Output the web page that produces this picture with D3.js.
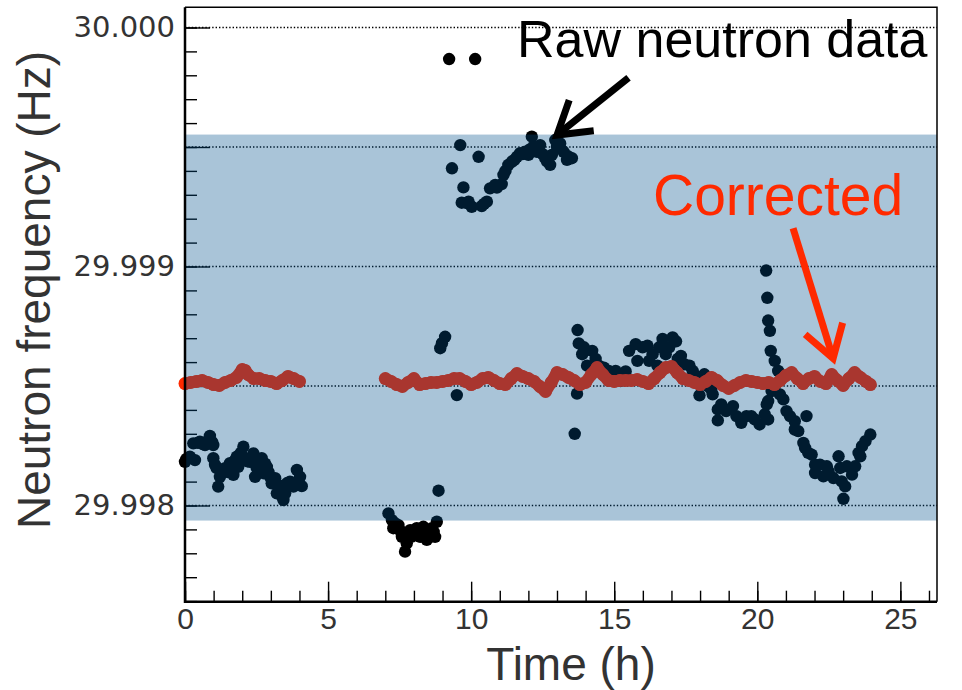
<!DOCTYPE html>
<html>
<head>
<meta charset="utf-8">
<script src="https://cdn.jsdelivr.net/npm/d3@7"></script>
<style>
  html, body { margin: 0; padding: 0; background: #fff; }
  svg { display: block; }
</style>
</head>
<body>
<div id="chart"></div>
<script>
// raw neutron data: time (h) and frequency (Hz)
var rawTime = [
  0.00, 0.05, 0.17, 0.29, 0.35, 0.45, 0.52, 0.62, 0.70, 0.80, 0.87, 0.95, 0.99, 0.99, 1.05, 1.11,
  1.16, 1.22, 1.30, 1.40, 1.50, 1.57, 1.63, 1.69, 1.75, 1.81, 1.86, 1.95, 2.04, 2.10, 2.18, 2.27,
  2.35, 2.39, 2.45, 2.50, 2.56, 2.62, 2.68, 2.74, 2.80, 2.86, 2.92, 2.97, 3.03, 3.09, 3.15, 3.21,
  3.27, 3.32, 3.38, 3.44, 3.50, 3.56, 3.62, 3.67, 3.73, 3.79, 3.85, 3.91, 3.97, 4.02, 4.08,
  7.11, 7.23, 7.28, 7.35, 7.46, 7.52, 7.58, 7.69, 7.75, 7.80, 7.87, 7.93, 7.98, 8.05, 8.10, 8.16,
  8.22, 8.28, 8.33, 8.40, 8.45, 8.51, 8.57, 8.63, 8.69, 8.74, 8.80, 8.86, 8.92, 8.98, 9.09, 9.23,
  9.50, 10.14,
  9.33, 9.62, 9.67, 9.73, 9.85, 9.91, 10.02, 10.26, 10.37, 10.45, 10.55, 10.66, 10.84, 10.90, 11.07, 11.13,
  11.20, 11.30, 11.42, 11.50, 11.60, 11.71, 11.80, 11.89, 12.00, 12.05, 12.12, 12.18, 12.30, 12.41, 12.50, 12.59,
  12.65, 12.76, 12.82, 12.94, 13.00, 13.11, 13.23, 13.35, 13.40, 13.52,
  13.62, 13.70, 13.72, 13.76, 13.88, 13.94, 14.05, 14.23, 14.35, 14.46, 14.64, 14.81, 15.05, 15.22, 15.40, 15.52,
  15.75, 15.81, 15.99, 16.16, 16.22, 16.34, 16.51, 16.57, 16.69, 16.80, 16.92, 17.04, 17.16, 17.22, 17.33, 17.45,
  17.63, 17.74, 17.86, 17.98, 17.98, 18.15, 18.27, 18.39, 18.44, 18.62, 18.62, 18.74, 18.91, 19.15, 19.27, 19.44,
  19.62, 19.79, 19.91, 20.08, 20.26, 20.31, 20.33, 20.35, 20.38, 20.38, 20.38, 20.44, 20.47, 20.50, 20.61, 20.61,
  20.73, 20.79, 20.91, 21.02, 21.14, 21.31, 21.31, 21.43, 21.61, 21.67, 21.72, 21.78, 21.90, 22.02, 22.02, 22.19,
  22.31, 22.43, 22.49, 22.66, 22.84, 22.90, 22.95, 23.01, 23.07, 23.13, 23.31, 23.42, 23.54, 23.60, 23.66, 23.78,
  23.95
];
var rawFreq = [
  29.998183, 29.998195, 29.998204, 29.998260, 29.998190, 29.998262, 29.998267, 29.998257, 29.998253, 29.998270, 29.998291, 29.998265, 29.998253, 29.998198, 29.998170, 29.998156,
  29.998079, 29.998120, 29.998150, 29.998156, 29.998140, 29.998177, 29.998162, 29.998128, 29.998190, 29.998204, 29.998162, 29.998220, 29.998246, 29.998198, 29.998185, 29.998183,
  29.998200, 29.998218, 29.998120, 29.998160, 29.998169, 29.998150, 29.998198, 29.998135, 29.998175, 29.998162, 29.998140, 29.998120, 29.998093, 29.998110, 29.998114, 29.998051,
  29.998085, 29.998072, 29.998040, 29.998023, 29.998051, 29.998093, 29.998080, 29.998100, 29.998095, 29.998079, 29.998090, 29.998149, 29.998100, 29.998120, 29.998081,
  29.997967, 29.997939, 29.997905, 29.997925, 29.997918, 29.997895, 29.997869, 29.997807, 29.997842, 29.997880, 29.997897, 29.997870, 29.997884, 29.997900, 29.997905, 29.997880,
  29.997869, 29.997895, 29.997911, 29.997880, 29.997856, 29.997884, 29.997870, 29.997905, 29.997890, 29.997869, 29.997932, 29.998062, 29.998658, 29.998679, 29.998706, 29.999868,
  29.998462, 29.999868,
  29.999411, 29.999508, 29.999267, 29.999331, 29.999265, 29.999271, 29.999250, 29.999459, 29.999253, 29.999262, 29.999271, 29.999327, 29.999341, 29.999330, 29.999345, 29.999383,
  29.999400, 29.999425, 29.999438, 29.999445, 29.999459, 29.999474, 29.999470, 29.999480, 29.999467, 29.999490, 29.999543, 29.999501, 29.999480, 29.999508, 29.999470, 29.999453,
  29.999440, 29.999425, 29.999467, 29.999529, 29.999500, 29.999515, 29.999480, 29.999446, 29.999460, 29.999453,
  29.998300, 29.998468, 29.998734, 29.998678, 29.998633, 29.998662, 29.998585, 29.998647, 29.998613, 29.998585, 29.998577, 29.998563, 29.998563, 29.998521, 29.998561, 29.998647,
  29.998675, 29.998605, 29.998662, 29.998669, 29.998605, 29.998633, 29.998585, 29.998662, 29.998697, 29.998633, 29.998662, 29.998703, 29.998687, 29.998613, 29.998626, 29.998591,
  29.998585, 29.998563, 29.998542, 29.998514, 29.998461, 29.998549, 29.998500, 29.998486, 29.998465, 29.998402, 29.998356, 29.998423, 29.998395, 29.998416, 29.998374, 29.998346,
  29.998374, 29.998374, 29.998360, 29.998339, 29.998381, 29.998983, 29.998423, 29.998869, 29.998774, 29.998437, 29.998360, 29.998731, 29.998647, 29.998479, 29.998605, 29.998500,
  29.998563, 29.998465, 29.998444, 29.998395, 29.998374, 29.998353, 29.998318, 29.998311, 29.998262, 29.998241, 29.998374, 29.998220, 29.998213, 29.998171, 29.998136, 29.998171,
  29.998122, 29.998164, 29.998143, 29.998115, 29.998206, 29.998157, 29.998101, 29.998028, 29.998080, 29.998164, 29.998129, 29.998164, 29.998220, 29.998206, 29.998248, 29.998269,
  29.998297
];

// corrected data
var corrTime = [
  0.0, 0.2, 0.4, 0.6, 0.8, 1.0, 1.2, 1.4, 1.6, 1.8, 2.0, 2.1, 2.2, 2.4, 2.6, 2.8, 3.0, 3.2, 3.4, 3.6, 3.8, 4.0,
  7.0, 7.2, 7.4, 7.6, 7.8, 8.0, 8.2, 8.4, 8.6, 8.8, 9.0, 9.2, 9.4, 9.6, 9.8, 10.0, 10.2, 10.4, 10.6, 10.8,
  11.0, 11.2, 11.4, 11.6, 11.8, 12.0, 12.2, 12.4, 12.6, 12.8, 13.0, 13.2, 13.4, 13.6, 13.8, 14.0, 14.2, 14.4,
  14.6, 14.8, 15.0, 15.2, 15.4, 15.6, 15.8, 16.0, 16.2, 16.4, 16.6, 16.8, 17.0, 17.2, 17.4, 17.6, 17.8, 18.0,
  18.2, 18.4, 18.6, 18.8, 19.0, 19.2, 19.4, 19.6, 19.8, 20.0, 20.2, 20.4, 20.6, 20.8, 21.0, 21.2, 21.4, 21.6,
  21.8, 22.0, 22.2, 22.4, 22.6, 22.8, 23.0, 23.2, 23.4, 23.6, 23.8, 23.95
];
var corrFreq = [
  29.998510, 29.998515, 29.998519, 29.998523, 29.998515, 29.998506, 29.998502, 29.998515, 29.998523, 29.998536, 29.998569, 29.998565, 29.998548, 29.998531, 29.998531, 29.998523, 29.998519, 29.998510, 29.998523, 29.998540, 29.998531, 29.998519,
  29.998531, 29.998519, 29.998506, 29.998498, 29.998515, 29.998531, 29.998506, 29.998510, 29.998515, 29.998515, 29.998519, 29.998523, 29.998531, 29.998531, 29.998519, 29.998506, 29.998515, 29.998531, 29.998536, 29.998523,
  29.998510, 29.998506, 29.998531, 29.998552, 29.998540, 29.998531, 29.998519, 29.998498, 29.998477, 29.998515, 29.998556, 29.998548, 29.998536, 29.998523, 29.998506, 29.998515, 29.998548, 29.998577,
  29.998548, 29.998523, 29.998519, 29.998523, 29.998523, 29.998523, 29.998527, 29.998519, 29.998510, 29.998531, 29.998556, 29.998577, 29.998582, 29.998556, 29.998531, 29.998523, 29.998515, 29.998506,
  29.998519, 29.998536, 29.998523, 29.998502, 29.998490, 29.998502, 29.998515, 29.998523, 29.998519, 29.998515, 29.998510, 29.998515, 29.998506, 29.998523, 29.998544, 29.998556, 29.998531, 29.998510,
  29.998531, 29.998540, 29.998519, 29.998510, 29.998548, 29.998523, 29.998502, 29.998531, 29.998556, 29.998536, 29.998519, 29.998506
];

// shaded band and axis ticks
var bandRange = [29.997937, 29.999552];
var xMajorTicks = [0, 5, 10, 15, 20, 25];
var yLabelTicks = [29.998, 29.999, 30.000];
var yGridTicks = [29.998, 29.9985, 29.999, 29.9995, 30.000];

var width = 962, height = 690;
var plot = {left: 185, right: 937, top: 7.3, bottom: 601.7};

var x = d3.scaleLinear().domain([0, 26.28]).range([plot.left, plot.right]);
var y = d3.scaleLinear().domain([29.9975975, 30.0000845]).range([plot.bottom, plot.top]);

var svg = d3.select("#chart").append("svg")
    .attr("width", width)
    .attr("height", height);

// dotted horizontal grid
svg.append("g").selectAll("line")
    .data(yGridTicks)
  .enter().append("line")
    .attr("x1", plot.left).attr("x2", plot.right)
    .attr("y1", function(d) { return y(d); })
    .attr("y2", function(d) { return y(d); })
    .attr("stroke", "#000")
    .attr("stroke-width", 1.3)
    .attr("stroke-dasharray", "1.4,2");

// minor ticks (no labels)
var xMinor = d3.axisBottom(x).tickValues(d3.range(0, 27, 1)).tickSizeInner(-11).tickSizeOuter(0).tickFormat("");
var yMinor = d3.axisLeft(y).tickValues(d3.range(29.9976, 30.00005, 0.0001)).tickSizeInner(-12).tickSizeOuter(0).tickFormat("");

svg.append("g").attr("transform", "translate(0," + plot.bottom + ")").call(xMinor);
svg.append("g").attr("transform", "translate(" + plot.left + ",0)").call(yMinor);

// major ticks
var xAxis = d3.axisBottom(x).tickValues(xMajorTicks).tickSizeInner(-20).tickSizeOuter(0).tickPadding(6)
    .tickFormat(d3.format("d"));
var yAxis = d3.axisLeft(y).tickValues(yGridTicks).tickSizeInner(-25).tickSizeOuter(0).tickPadding(10)
    .tickFormat(function(d) { return yLabelTicks.indexOf(d) >= 0 ? d3.format(".3f")(d) : ""; });

var gx = svg.append("g").attr("transform", "translate(0," + plot.bottom + ")").call(xAxis);
var gy = svg.append("g").attr("transform", "translate(" + plot.left + ",0)").call(yAxis);

svg.selectAll(".domain").remove();
svg.selectAll(".tick line").attr("stroke", "#000").attr("stroke-width", 1.4);

gx.selectAll("text")
    .attr("fill", "#333")
    .style("font-family", "'Liberation Sans', Arial, sans-serif")
    .style("font-size", "30px");
gy.selectAll("text")
    .attr("fill", "#333")
    .style("font-family", "'DejaVu Sans', sans-serif")
    .style("font-size", "29px");

// raw points
svg.append("g").selectAll("circle")
    .data(d3.range(rawTime.length))
  .enter().append("circle")
    .attr("cx", function(i) { return x(rawTime[i]); })
    .attr("cy", function(i) { return y(rawFreq[i]); })
    .attr("r", 6.2)
    .attr("fill", "#000");

// corrected points: dense markers, drawn as a thick trace per run plus dots
var runs = [[]];
corrTime.forEach(function(t, i) {
  if (i > 0 && t - corrTime[i - 1] > 1) runs.push([]);
  runs[runs.length - 1].push(i);
});
var corrLine = d3.line()
    .x(function(i) { return x(corrTime[i]); })
    .y(function(i) { return y(corrFreq[i]); });

svg.append("g").selectAll("path")
    .data(runs)
  .enter().append("path")
    .attr("d", corrLine)
    .attr("fill", "none")
    .attr("stroke", "#ff2a00")
    .attr("stroke-width", 12)
    .attr("stroke-linejoin", "round")
    .attr("stroke-linecap", "round");

svg.append("g").selectAll("circle")
    .data(d3.range(corrTime.length))
  .enter().append("circle")
    .attr("cx", function(i) { return x(corrTime[i]); })
    .attr("cy", function(i) { return y(corrFreq[i]); })
    .attr("r", 6.5)
    .attr("fill", "#ff2a00");

// translucent band on top of the data
svg.append("rect")
    .attr("x", plot.left)
    .attr("width", plot.right - plot.left)
    .attr("y", y(bandRange[1]))
    .attr("height", y(bandRange[0]) - y(bandRange[1]))
    .attr("fill", "rgb(0,80,139)")
    .attr("fill-opacity", 0.337);

// frame
svg.append("path")
    .attr("d", "M" + plot.left + "," + plot.top + "H" + plot.right + "V" + plot.bottom)
    .attr("fill", "none").attr("stroke", "#000").attr("stroke-width", 1.5);
svg.append("path")
    .attr("d", "M" + plot.left + "," + plot.top + "V" + plot.bottom + "H" + plot.right)
    .attr("fill", "none").attr("stroke", "#000").attr("stroke-width", 2.5);

// axis titles
svg.append("text")
    .attr("x", 571).attr("y", 680)
    .attr("text-anchor", "middle")
    .attr("fill", "#333")
    .style("font-family", "'Liberation Sans', Arial, sans-serif")
    .style("font-size", "46px")
    .text("Time (h)");

svg.append("text")
    .attr("transform", "translate(50,290) rotate(-90)")
    .attr("text-anchor", "middle")
    .attr("fill", "#333")
    .style("font-family", "'Liberation Sans', Arial, sans-serif")
    .style("font-size", "46px")
    .text("Neutron frequency (Hz)");

// annotations
function arrow(tail, tip, color) {
  var x0 = x(tail[0]), y0 = y(tail[1]), x1 = x(tip[0]), y1 = y(tip[1]);
  var ang = Math.atan2(y0 - y1, x0 - x1), half = 32 * Math.PI / 180, len = 37;
  svg.append("line")
      .attr("x1", x0).attr("y1", y0).attr("x2", x1).attr("y2", y1)
      .attr("stroke", color).attr("stroke-width", 7);
  svg.append("path")
      .attr("d", "M" + (x1 + len * Math.cos(ang + half)) + "," + (y1 + len * Math.sin(ang + half)) +
                 "L" + x1 + "," + y1 +
                 "L" + (x1 + len * Math.cos(ang - half)) + "," + (y1 + len * Math.sin(ang - half)))
      .attr("fill", "none").attr("stroke", color).attr("stroke-width", 7)
      .attr("stroke-linejoin", "miter");
}

svg.append("text")
    .attr("x", 517).attr("y", 57)
    .attr("fill", "#000")
    .style("font-family", "'Liberation Sans', Arial, sans-serif")
    .style("font-size", "52px")
    .text("Raw neutron data");
arrow([15.5, 29.99979], [13.0, 29.99955], "#000");

svg.append("text")
    .attr("x", 653).attr("y", 215)
    .attr("fill", "#ff2a00")
    .style("font-family", "'Liberation Sans', Arial, sans-serif")
    .style("font-size", "57px")
    .text("Corrected");
arrow([21.25, 29.99916], [22.65, 29.998615], "#ff2a00");
</script>
</body>
</html>
